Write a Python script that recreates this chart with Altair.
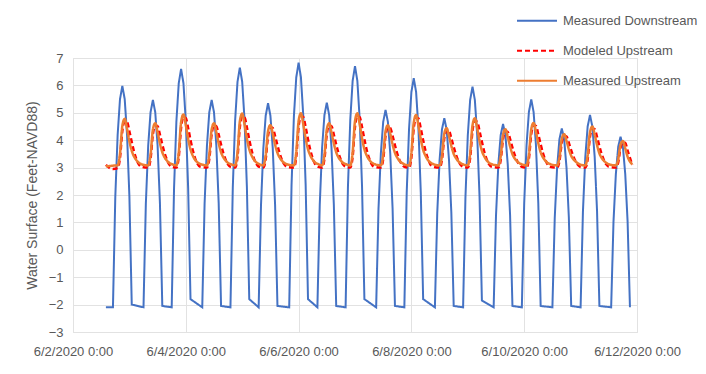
import altair as alt
import pandas as pd

series_names = ["Measured Downstream", "Modeled Upstream", "Measured Upstream"]
series_colors = ["#4472C4", "#FF0000", "#ED7D31"]

# hours after 6/2/2020 0:00
ds_hours = [14,
    17, 18, 19, 20, 21, 22, 23, 24, 25,
    30, 31, 32, 33, 34, 35, 36, 37, 38,
    42, 43, 44, 45, 46, 47, 48, 49, 50,
    55, 56, 57, 58, 59, 60, 61, 62, 63,
    67, 68, 69, 70, 71, 72, 73, 74, 75,
    79, 80, 81, 82, 83, 84, 85, 86, 87,
    92, 93, 94, 95, 96, 97, 98, 99, 100,
    104, 105, 106, 107, 108, 109, 110, 111, 112,
    116, 117, 118, 119, 120, 121, 122, 123, 124,
    129, 130, 131, 132, 133, 134, 135, 136, 137,
    141, 142, 143, 144, 145, 146, 147, 148, 149,
    154, 155, 156, 157, 158, 159, 160, 161, 162,
    166, 167, 168, 169, 170, 171, 172, 173, 174,
    179, 180, 181, 182, 183, 184, 185, 186, 187,
    191, 192, 193, 194, 195, 196, 197, 198, 199,
    204, 205, 206, 207, 208, 209, 210, 211, 212,
    216, 217, 218, 219, 220, 221, 222, 223, 224,
    229, 230, 231, 232, 233, 234, 235, 236, 237]
ds_vals = [-2.1,
    -2.1, 1.94, 4.20, 5.50, 5.98, 5.50, 4.20, 1.94, -2.0,
    -2.1, 1.69, 3.80, 5.02, 5.47, 5.02, 3.80, 1.69, -2.05,
    -2.1, 2.25, 4.69, 6.08, 6.60, 6.08, 4.69, 2.25, -1.8,
    -2.1, 1.69, 3.80, 5.02, 5.47, 5.02, 3.80, 1.69, -2.05,
    -2.1, 2.28, 4.73, 6.13, 6.65, 6.13, 4.73, 2.28, -1.8,
    -2.1, 1.63, 3.71, 4.90, 5.35, 4.90, 3.71, 1.63, -2.05,
    -2.1, 2.37, 4.87, 6.29, 6.83, 6.29, 4.87, 2.37, -1.8,
    -2.1, 1.64, 3.73, 4.92, 5.37, 4.92, 3.73, 1.64, -2.05,
    -2.1, 2.30, 4.76, 6.17, 6.70, 6.17, 4.76, 2.30, -1.8,
    -2.1, 1.50, 3.52, 4.67, 5.10, 4.67, 3.52, 1.50, -2.05,
    -2.1, 2.08, 4.42, 5.76, 6.26, 5.76, 4.42, 2.08, -1.8,
    -2.1, 1.35, 3.28, 4.39, 4.80, 4.39, 3.28, 1.35, -2.05,
    -2.1, 1.93, 4.18, 5.47, 5.95, 5.47, 4.18, 1.93, -1.85,
    -2.1, 1.25, 3.12, 4.19, 4.59, 4.19, 3.12, 1.25, -2.05,
    -2.1, 1.70, 3.82, 5.03, 5.49, 5.03, 3.82, 1.70, -2.05,
    -2.1, 1.17, 3.00, 4.04, 4.43, 4.04, 3.00, 1.17, -2.05,
    -2.1, 1.41, 3.38, 4.50, 4.92, 4.50, 3.38, 1.41, -2.05,
    -2.1, 1.03, 2.76, 3.76, 4.13, 3.76, 2.76, 1.03, -2.1]

up_hours = [14, 16, 17,
    19, 20, 21, 22, 23, 24, 25, 26, 27, 28, 29,
    32, 33, 34, 35, 36, 37, 38, 39, 40, 41, 42,
    44, 45, 46, 47, 48, 49, 50, 51, 52, 53, 54,
    57, 58, 59, 60, 61, 62, 63, 64, 65, 66, 67,
    69, 70, 71, 72, 73, 74, 75, 76, 77, 78, 79,
    81, 82, 83, 84, 85, 86, 87, 88, 89, 90, 91,
    94, 95, 96, 97, 98, 99, 100, 101, 102, 103, 104,
    106, 107, 108, 109, 110, 111, 112, 113, 114, 115, 116,
    118, 119, 120, 121, 122, 123, 124, 125, 126, 127, 128,
    131, 132, 133, 134, 135, 136, 137, 138, 139, 140, 141,
    143, 144, 145, 146, 147, 148, 149, 150, 151, 152, 153,
    156, 157, 158, 159, 160, 161, 162, 163, 164, 165, 166,
    168, 169, 170, 171, 172, 173, 174, 175, 176, 177, 178,
    181, 182, 183, 184, 185, 186, 187, 188, 189, 190, 191,
    193, 194, 195, 196, 197, 198, 199, 200, 201, 202, 203,
    206, 207, 208, 209, 210, 211, 212, 213, 214, 215, 216,
    218, 219, 220, 221, 222, 223, 224, 225, 226, 227, 228,
    231, 232, 233, 234, 235, 236, 237, 238]
mu_vals = [3.05, 3.06, 3.07,
    3.08, 3.51, 4.53, 4.78, 4.42, 3.96, 3.61, 3.40, 3.27, 3.18, 3.13,
    3.08, 3.47, 4.39, 4.62, 4.30, 3.88, 3.56, 3.37, 3.25, 3.17, 3.13,
    3.08, 3.55, 4.66, 4.94, 4.55, 4.05, 3.66, 3.43, 3.28, 3.19, 3.14,
    3.08, 3.47, 4.39, 4.62, 4.30, 3.88, 3.56, 3.37, 3.25, 3.17, 3.13,
    3.08, 3.55, 4.69, 4.97, 4.57, 4.06, 3.67, 3.44, 3.29, 3.19, 3.14,
    3.08, 3.45, 4.33, 4.55, 4.24, 3.84, 3.54, 3.36, 3.24, 3.17, 3.12,
    3.08, 3.56, 4.70, 4.98, 4.58, 4.07, 3.67, 3.44, 3.29, 3.19, 3.14,
    3.08, 3.47, 4.39, 4.62, 4.30, 3.88, 3.56, 3.37, 3.25, 3.17, 3.13,
    3.08, 3.56, 4.70, 4.98, 4.58, 4.07, 3.67, 3.44, 3.29, 3.19, 3.14,
    3.08, 3.45, 4.33, 4.55, 4.24, 3.84, 3.54, 3.36, 3.24, 3.17, 3.12,
    3.08, 3.54, 4.64, 4.92, 4.53, 4.04, 3.65, 3.43, 3.28, 3.19, 3.14,
    3.08, 3.42, 4.24, 4.44, 4.15, 3.79, 3.50, 3.34, 3.23, 3.16, 3.12,
    3.08, 3.51, 4.54, 4.80, 4.44, 3.97, 3.61, 3.41, 3.27, 3.18, 3.13,
    3.08, 3.41, 4.20, 4.40, 4.12, 3.77, 3.49, 3.33, 3.23, 3.16, 3.12,
    3.08, 3.47, 4.40, 4.63, 4.30, 3.89, 3.56, 3.37, 3.25, 3.17, 3.13,
    3.08, 3.37, 4.05, 4.22, 3.98, 3.67, 3.43, 3.30, 3.21, 3.15, 3.11,
    3.08, 3.44, 4.29, 4.50, 4.20, 3.82, 3.52, 3.35, 3.24, 3.17, 3.12,
    3.08, 3.30, 3.84, 3.97, 3.70, 3.40, 3.22, 3.12]
md_vals = [3.10, 2.97, 2.95,
    2.98, 3.36, 4.34, 4.69, 4.66, 4.32, 3.93, 3.57, 3.30, 3.12, 3.04,
    3.00, 3.32, 4.22, 4.54, 4.51, 4.20, 3.84, 3.52, 3.28, 3.11, 3.03,
    3.00, 3.39, 4.46, 4.84, 4.80, 4.44, 4.01, 3.62, 3.33, 3.14, 3.04,
    3.00, 3.32, 4.22, 4.54, 4.51, 4.20, 3.84, 3.52, 3.28, 3.11, 3.03,
    3.00, 3.39, 4.48, 4.87, 4.83, 4.46, 4.02, 3.63, 3.33, 3.14, 3.04,
    3.00, 3.31, 4.16, 4.47, 4.44, 4.15, 3.81, 3.50, 3.26, 3.11, 3.03,
    3.00, 3.40, 4.49, 4.88, 4.84, 4.47, 4.03, 3.63, 3.34, 3.14, 3.04,
    3.00, 3.32, 4.22, 4.54, 4.51, 4.20, 3.84, 3.52, 3.28, 3.11, 3.03,
    3.00, 3.40, 4.49, 4.88, 4.84, 4.47, 4.03, 3.63, 3.34, 3.14, 3.04,
    3.00, 3.31, 4.16, 4.47, 4.44, 4.15, 3.81, 3.50, 3.26, 3.11, 3.03,
    3.00, 3.38, 4.44, 4.82, 4.79, 4.42, 4.00, 3.61, 3.33, 3.13, 3.04,
    3.00, 3.29, 4.08, 4.37, 4.34, 4.07, 3.75, 3.46, 3.24, 3.10, 3.03,
    3.00, 3.36, 4.35, 4.71, 4.67, 4.33, 3.94, 3.58, 3.31, 3.13, 3.04,
    3.00, 3.28, 4.05, 4.33, 4.30, 4.04, 3.73, 3.45, 3.24, 3.10, 3.03,
    3.00, 3.33, 4.22, 4.55, 4.52, 4.21, 3.85, 3.52, 3.28, 3.11, 3.03,
    3.00, 3.24, 3.92, 4.16, 4.13, 3.90, 3.63, 3.39, 3.21, 3.09, 3.02,
    3.00, 3.30, 4.13, 4.43, 4.40, 4.11, 3.78, 3.48, 3.26, 3.11, 3.03,
    3.00, 3.19, 3.73, 3.92, 3.90, 3.62, 3.35, 3.10]

tick_days = [2, 4, 6, 8, 10, 12]
y_ticks = list(range(-3, 8))

start = pd.Timestamp("2020-06-02 00:00")
def frame(hours, vals, name):
    return pd.DataFrame({
        "time": [start + pd.Timedelta(hours=h) for h in hours],
        "value": vals,
        "series": name,
    })

df = pd.concat([
    frame(ds_hours, ds_vals, series_names[0]),
    frame(up_hours, md_vals, series_names[1]),
    frame(up_hours, mu_vals, series_names[2]),
], ignore_index=True)
df["time"] = df["time"].dt.strftime("%Y-%m-%dT%H:%M:%S")

gray = "#595959"
grid = "#E2E2E2"
font = "Liberation Sans"

x_enc = alt.X("time:T",
    scale=alt.Scale(domain=[alt.DateTime(year=2020, month=6, date=2),
                            alt.DateTime(year=2020, month=6, date=12)]),
    axis=alt.Axis(values=[alt.DateTime(year=2020, month=6, date=d) for d in tick_days],
                  format="%-m/%-d/%Y %-H:%M", title=None, grid=True, gridColor=grid,
                  domain=False, ticks=False, labelPadding=13, labelFontSize=13,
                  labelColor=gray, labelFont=font, labelFlush=False))
y_enc = alt.Y("value:Q",
    scale=alt.Scale(domain=[-3, 7], nice=False),
    axis=alt.Axis(values=y_ticks, title="Water Surface (Feet-NAVD88)", grid=True,
                  gridColor=grid, domain=False, ticks=False, labelPadding=10,
                  labelFontSize=13, labelColor=gray, labelFont=font,
                  titleFontSize=14, titleFontWeight="normal", titleColor=gray,
                  titleFont=font, titlePadding=9))
legend_cfg = dict(title=None, orient="none", legendX=443, legendY=-52,
                  symbolType="stroke", symbolSize=1600, symbolStrokeWidth=2,
                  labelFontSize=13, labelColor=gray, labelFont=font,
                  rowPadding=0, clipHeight=29.5, labelOffset=5, padding=0)
color_enc = alt.Color("series:N",
    scale=alt.Scale(domain=series_names, range=series_colors),
    legend=alt.Legend(**legend_cfg))
dash_enc = alt.StrokeDash("series:N",
    scale=alt.Scale(domain=series_names, range=[[1, 0], [5, 3], [1, 0]]),
    legend=alt.Legend(**legend_cfg))

widths = [2, 2.5, 2.5]
interps = ["linear", "monotone", "monotone"]
layers = []
for name, w, ip in zip(series_names, widths, interps):
    layers.append(
        alt.Chart(df).transform_filter(alt.datum.series == name)
        .mark_line(strokeWidth=w, interpolate=ip)
        .encode(x=x_enc, y=y_enc, color=color_enc, strokeDash=dash_enc)
    )

chart = alt.layer(*layers).properties(
    width=564, height=274,
    padding={"left": 65, "top": 50, "right": 61, "bottom": 34},
    autosize="none",
).configure_view(stroke=None).configure(background="white")

chart.save("out.html", embed_options={"renderer": "svg", "actions": False})
